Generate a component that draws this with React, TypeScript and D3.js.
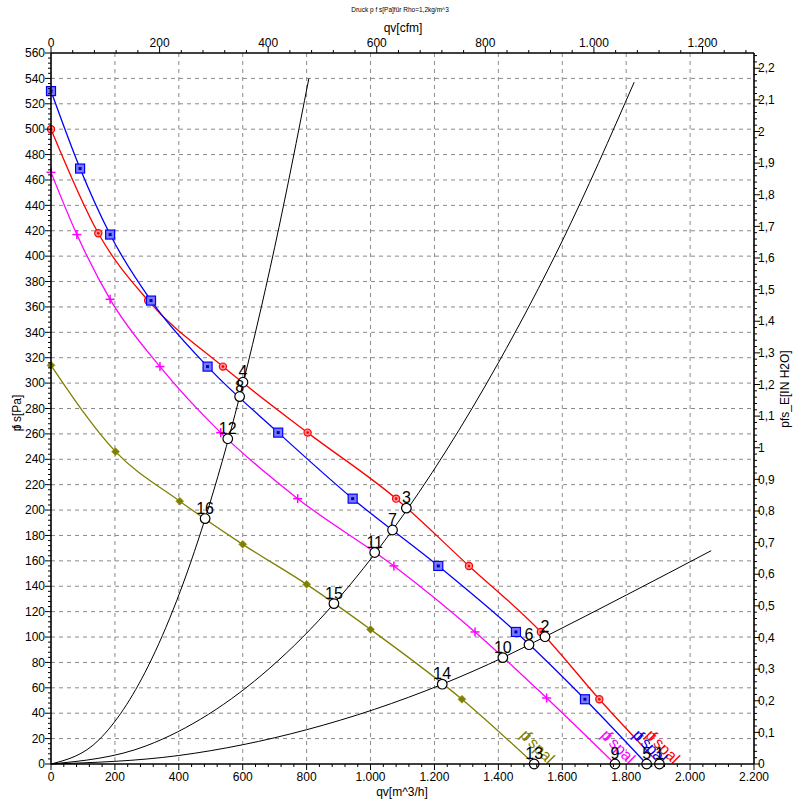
import React from "react";
import * as d3 from "d3";

// ---------- data ----------
// fan curves: q [m^3/h], p [Pa]
const redQ = [0, 148, 304, 538, 803, 1080, 1308, 1533, 1716, 1904];
const redP = [500, 418, 365, 313, 261, 209, 156, 104, 51, 0];
const blueQ = [0, 91, 185, 313, 490, 711, 944, 1212, 1455, 1671, 1864];
const blueP = [530, 469, 417, 365, 313, 261, 209, 156, 104, 51, 0];
const pinkQ = [0, 81, 185, 341, 531, 772, 1073, 1327, 1551, 1765];
const pinkP = [466, 417, 366, 313, 261, 209, 156, 104, 52, 0];
const oliveQ = [0, 202, 403, 600, 800, 1000, 1286, 1512];
const oliveP = [314, 246, 207, 173, 141.5, 106, 51, 0];

// system curves
const steepQ = [0, 150, 304, 482, 589, 700, 807];
const steepP = [0, 19, 77, 193, 288, 407, 540];
const middleQ = [0, 300, 685, 888, 1068, 1400, 1600, 1825];
const middleP = [0, 14.5, 75.6, 127, 184, 316, 412, 537];
const shallowQ = [0, 400, 800, 1226, 1416, 1544, 1800, 2066];
const shallowP = [0, 6.7, 27, 63, 84, 100, 133, 168];

// axes
const xTicks = [0, 200, 400, 600, 800, 1000, 1200, 1400, 1600, 1800, 2000, 2200];
const yTicks = d3.range(0, 561, 20);
const cfmTicks = [0, 200, 400, 600, 800, 1000, 1200];
const inH2OTicks = d3.range(0, 23).map((i) => i / 10);

const fanColors = ["#ff0000", "#0000ff", "#ff00ff", "#808000"];
const fanLabel = "spal";

const W = 793;
const H = 803;
const CFM_PER_M3H = 0.588578;
const PA_PER_INH2O = 249.089;

const fmt = (v: number) => d3.format(",")(v).replace(/,/g, ".");
const fmtDec = (v: number) => (Math.round(v * 10) / 10).toString().replace(".", ",");

function intersect(aQ: number[], aP: number[], bQ: number[], bP: number[]) {
  for (let i = 0; i < aQ.length - 1; i++) {
    for (let j = 0; j < bQ.length - 1; j++) {
      const x1 = aQ[i], y1 = aP[i], x2 = aQ[i + 1], y2 = aP[i + 1];
      const x3 = bQ[j], y3 = bP[j], x4 = bQ[j + 1], y4 = bP[j + 1];
      const den = (x1 - x2) * (y3 - y4) - (y1 - y2) * (x3 - x4);
      if (den === 0) continue;
      const t = ((x1 - x3) * (y3 - y4) - (y1 - y3) * (x3 - x4)) / den;
      const u = -((x1 - x2) * (y1 - y3) - (y1 - y2) * (x1 - x3)) / den;
      if (t >= 0 && t <= 1 && u >= 0 && u <= 1) {
        return [x1 + t * (x2 - x1), y1 + t * (y2 - y1)];
      }
    }
  }
  return null;
}

export default function App() {
  const x = d3.scaleLinear().domain([0, 2200]).range([51, 754]);
  const y = d3.scaleLinear().domain([0, 560]).range([764, 53]);
  const xTop = d3.scaleLinear().domain([0, 2200 * CFM_PER_M3H]).range([51, 754]);
  const yRight = d3.scaleLinear().domain([0, 560 / PA_PER_INH2O]).range([764, 53]);

  const line = d3
    .line<[number, number]>()
    .x((d) => x(d[0]))
    .y((d) => y(d[1]))
    .curve(d3.curveMonotoneX);

  const fans = [
    { q: redQ, p: redP },
    { q: blueQ, p: blueP },
    { q: pinkQ, p: pinkP },
    { q: oliveQ, p: oliveP },
  ];
  const systems = [
    { q: shallowQ, p: shallowP },
    { q: middleQ, p: middleP },
    { q: steepQ, p: steepP },
  ];

  const points: { n: number; q: number; p: number }[] = [];
  fans.forEach((f, fi) => {
    points.push({ n: fi * 4 + 1, q: f.q[f.q.length - 1], p: 0 });
    systems.forEach((s, si) => {
      const r = intersect(f.q, f.p, s.q, s.p);
      if (r) points.push({ n: fi * 4 + 2 + si, q: r[0], p: r[1] });
    });
  });

  const font = "Liberation Sans, Arial, sans-serif";
  const grid = "#8a8a8a";

  const marker = (fi: number, q: number, p: number, k: number) => {
    const cx = x(q), cy = y(p);
    const c = fanColors[fi];
    if (fi === 0)
      return (
        <g key={k}>
          <circle cx={cx} cy={cy} r={3.6} fill="#ff9090" stroke={c} strokeWidth={1.2} />
          <circle cx={cx} cy={cy} r={1.3} fill={c} />
        </g>
      );
    if (fi === 1)
      return (
        <g key={k}>
          <rect x={cx - 4.5} y={cy - 4.5} width={9} height={9} fill="#7a7aff" stroke={c} strokeWidth={1.2} />
          <rect x={cx - 1.5} y={cy - 1.5} width={3} height={3} fill="#0000aa" />
        </g>
      );
    if (fi === 2)
      return (
        <g key={k} stroke={c} strokeWidth={1.5}>
          <line x1={cx - 4.5} x2={cx + 4.5} y1={cy} y2={cy} />
          <line x1={cx} x2={cx} y1={cy - 4.5} y2={cy + 4.5} />
        </g>
      );
    return (
      <path
        key={k}
        d={`M${cx},${cy - 4}L${cx + 4},${cy}L${cx},${cy + 4}L${cx - 4},${cy}Z`}
        fill={c}
        stroke="#9a9a30"
        strokeWidth={0.6}
      />
    );
  };

  const minorX = d3.range(0, 2201, 40);
  const minorY = d3.range(0, 561, 4);
  const minorCfm = d3.range(0, 2200 * CFM_PER_M3H, 40);
  const minorIn = d3.range(0, 560 / PA_PER_INH2O, 0.02);

  return (
    <svg
      width={W}
      height={H}
      style={{ position: "absolute", left: 0, top: 0, background: "#fff" }}
      fontFamily={font}
    >
      <rect x={0} y={0} width={W} height={H} fill="#fff" />
      {/* grid */}
      <g stroke={grid} strokeWidth={1} strokeDasharray="4,4">
        {xTicks.slice(1, -1).map((t) => (
          <line key={"gx" + t} x1={x(t)} x2={x(t)} y1={y(560)} y2={y(0)} />
        ))}
        {yTicks.slice(1, -1).map((t) => (
          <line key={"gy" + t} x1={x(0)} x2={x(2200)} y1={y(t)} y2={y(t)} />
        ))}
      </g>

      {/* system curves */}
      <g fill="none" stroke="#000" strokeWidth={1}>
        {systems.map((s, i) => (
          <path key={"s" + i} d={line(s.q.map((q, j) => [q, s.p[j]]) as [number, number][]) || ""} />
        ))}
      </g>

      {/* fan curves */}
      {fans.map((f, fi) => (
        <path
          key={"f" + fi}
          d={line(f.q.map((q, j) => [q, f.p[j]]) as [number, number][]) || ""}
          fill="none"
          stroke={fanColors[fi]}
          strokeWidth={1.3}
        />
      ))}
      {fans.map((f, fi) =>
        f.q.slice(0, -1).map((q, j) => marker(fi, q, f.p[j], fi * 100 + j))
      )}

      {/* curve labels */}
      {fans.map((f, fi) => {
        const qz = f.q[f.q.length - 1];
        const lx = x(qz) - 15;
        const ly = 736;
        return (
          <text
            key={"lab" + fi}
            transform={`translate(${lx},${ly}) rotate(45)`}
            fontSize={16}
            fill={fanColors[fi]}
          >
            <tspan>p</tspan>
            <tspan dx={-5}>f</tspan>
            <tspan dx={3}>{fanLabel}</tspan>
          </text>
        );
      })}

      {/* operating points */}
      {points.map((pt) => (
        <g key={"pt" + pt.n}>
          <circle cx={x(pt.q)} cy={y(pt.p)} r={4.8} fill="#fff" stroke="#000" strokeWidth={1.2} />
          <text x={x(pt.q)} y={y(pt.p) - 5} fontSize={16} textAnchor="middle" fill="#000">
            {pt.n}
          </text>
        </g>
      ))}

      {/* axes frame */}
      <g stroke="#000" strokeWidth={1.6} fill="none">
        <line x1={x(0)} x2={x(0)} y1={y(0)} y2={y(560)} />
        <line x1={x(2200)} x2={x(2200)} y1={y(0)} y2={y(560)} />
        <line x1={x(0)} x2={x(2200)} y1={y(0)} y2={y(0)} />
        <line x1={x(0)} x2={x(2200)} y1={y(560)} y2={y(560)} />
      </g>
      {/* ticks */}
      <g stroke="#000" strokeWidth={1}>
        {minorX.map((t) => (
          <line key={"mx" + t} x1={x(t)} x2={x(t)} y1={y(0)} y2={y(0) + (t % 200 === 0 ? 6 : 3)} />
        ))}
        {minorY.map((t) => (
          <line key={"my" + t} x1={x(0)} x2={x(0) - (t % 20 === 0 ? 6 : 3)} y1={y(t)} y2={y(t)} />
        ))}
        {minorCfm.map((t) => (
          <line key={"mc" + t} x1={xTop(t)} x2={xTop(t)} y1={y(560)} y2={y(560) - (t % 200 === 0 ? 6 : 3)} />
        ))}
        {minorIn.map((t, i) => (
          <line key={"mi" + i} x1={x(2200)} x2={x(2200) + (i % 5 === 0 ? 6 : 3)} y1={yRight(t)} y2={yRight(t)} />
        ))}
      </g>
      {/* tick labels */}
      <g fontSize={12} fill="#000">
        {xTicks.map((t) => (
          <text key={"lx" + t} x={x(t)} y={781} textAnchor="middle">
            {fmt(t)}
          </text>
        ))}
        {yTicks.map((t) => (
          <text key={"ly" + t} x={45} y={y(t)} dy="0.35em" textAnchor="end">
            {t}
          </text>
        ))}
        {cfmTicks.map((t) => (
          <text key={"lc" + t} x={xTop(t)} y={47} textAnchor="middle">
            {fmt(t)}
          </text>
        ))}
        {inH2OTicks.map((t, i) => (
          <text key={"li" + i} x={758} y={yRight(t)} dy="0.35em" textAnchor="start">
            {fmtDec(t)}
          </text>
        ))}
      </g>

      {/* titles */}
      <text x={400} y={12} fontSize={6.5} textAnchor="middle">
        Druck p f s[Pa]für Rho=1,2kg/m^3
      </text>
      <text x={403} y={32} fontSize={12} textAnchor="middle">
        qv[cfm]
      </text>
      <text x={402} y={796} fontSize={12} textAnchor="middle">
        qv[m^3/h]
      </text>
      <text transform="translate(21,413) rotate(-90)" fontSize={12} textAnchor="middle">
        <tspan>p</tspan>
        <tspan dx={-4}>f s[Pa]</tspan>
      </text>
      <text transform="translate(789,389) rotate(-90)" fontSize={12} textAnchor="middle">
        pfs_E[IN H2O]
      </text>
    </svg>
  );
}
